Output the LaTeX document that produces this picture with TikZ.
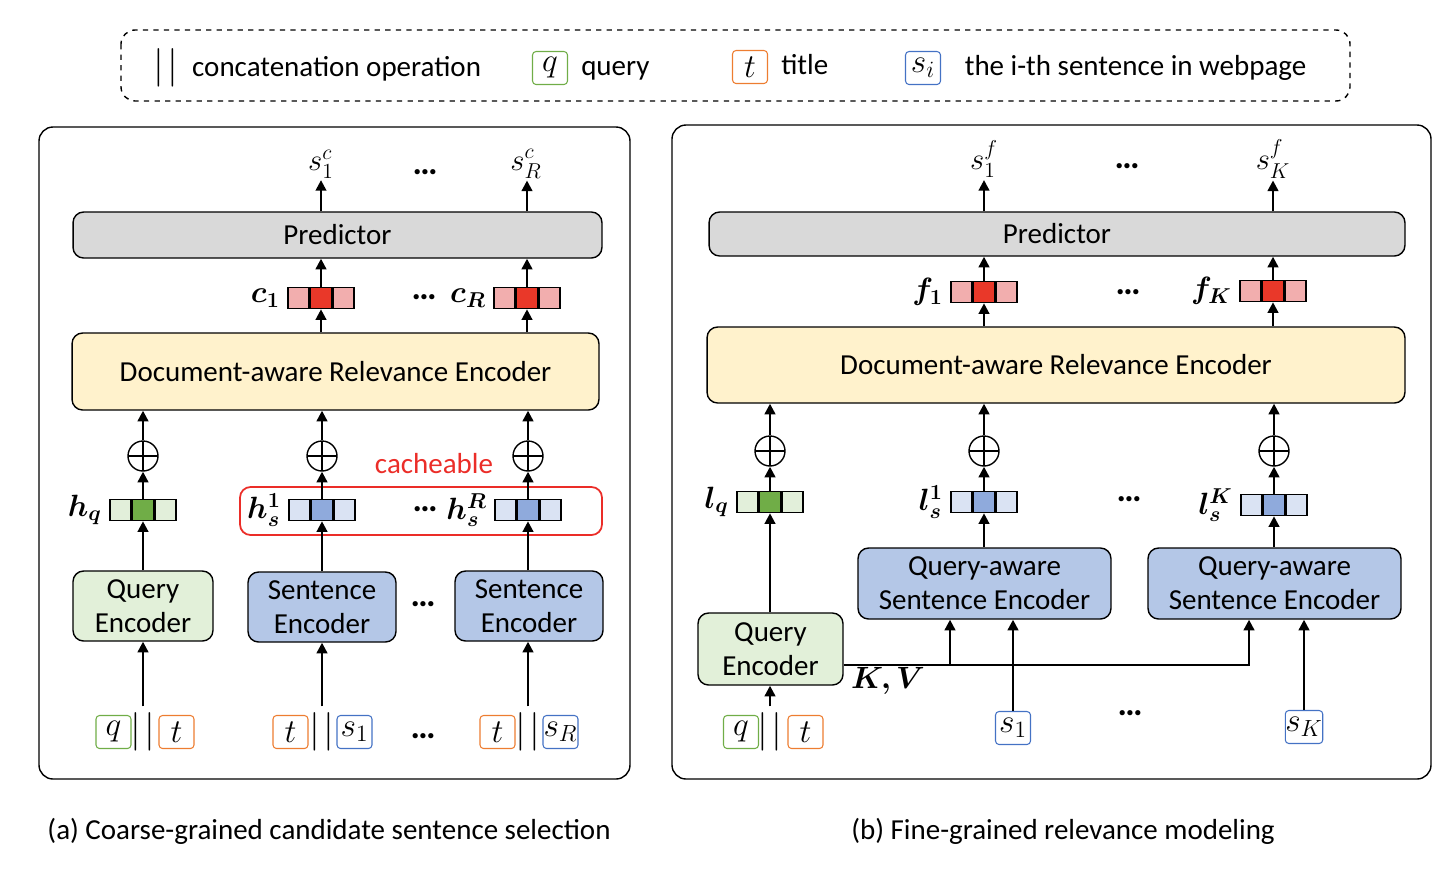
\RequirePackage{fix-cm}
\documentclass[tikz,border=0pt]{standalone}
\usepackage{amsmath,bm}
\usepackage{fontspec}
\setmainfont{Carlito}
\definecolor{relgray}{RGB}{217,217,217}
\definecolor{relyellow}{RGB}{255,242,204}
\definecolor{relgreenbg}{RGB}{226,240,217}
\definecolor{relbluebg}{RGB}{180,199,231}
\definecolor{relred}{RGB}{233,56,41}
\definecolor{relpink}{RGB}{242,174,174}
\definecolor{relgreen}{RGB}{112,173,71}
\definecolor{rellgreen}{RGB}{226,239,218}
\definecolor{relblue}{RGB}{143,170,220}
\definecolor{rellblue}{RGB}{218,227,243}
\definecolor{relorange}{RGB}{237,125,49}
\definecolor{reltblue}{RGB}{68,114,196}
\definecolor{relcache}{RGB}{235,45,40}
\usetikzlibrary{arrows.meta,positioning,calc}

% three-cell vector: name, position, side colour, centre colour
\newcommand{\relvec}[4]{%
  \node[relcell,fill=#4] (#1) at (#2) {};
  \node[relcell,fill=#3,anchor=east] (#1l) at (#1.west) {};
  \node[relcell,fill=#3,anchor=west] (#1r) at (#1.east) {};}
% tall concatenation bars
\newcommand{\relbars}{{\fontsize{22}{22}\selectfont${|}\kern2pt{|}$}}

\begin{document}
\begin{tikzpicture}[x=0.02cm,y=-0.02cm,
  font=\fontsize{16.5}{19.5}\selectfont,
  relpanel/.style={draw,rounded corners=8pt,line width=0.8pt},
  relblock/.style={draw,rounded corners=6pt,line width=0.8pt,align=center,inner sep=0pt},
  relarr/.style={-{Triangle[length=6pt,width=6pt]},line width=1.3pt},
  relcell/.style={draw,line width=0.9pt,minimum width=0.42cm,minimum height=0.42cm,inner sep=0pt},
  relplus/.style={draw,circle,line width=0.8pt,minimum size=0.6cm,inner sep=0pt,
    path picture={\draw[line width=0.8pt] (path picture bounding box.north) -- (path picture bounding box.south)
      (path picture bounding box.west) -- (path picture bounding box.east);}},
  reltok/.style={draw,rounded corners=2pt,line width=0.6pt,minimum width=0.7cm,minimum height=0.66cm,
    inner sep=0pt,font=\fontsize{19}{22}\selectfont},
  rellab/.style={inner sep=1pt,font=\fontsize{17.5}{21}\selectfont},
  relleg/.style={text height=11pt,text depth=3pt},
  reldots/.style={font=\fontsize{20}{22}\selectfont\bfseries}
]
  \useasboundingbox (0,0) rectangle (1446,870);

  % Legend
  \draw[dashed,rounded corners=8pt,line width=0.8pt] (121,30) rectangle (1350,101);
  \node (legbar) at (166,68) {\relbars};
  \node[relleg,anchor=west] (legbartxt) at (186,69) {concatenation operation};
  \node[reltok,draw=relgreen] (legq) at (550,68) {$q$};
  \node[relleg,right=4pt of legq] (legqtxt) {query};
  \node[reltok,draw=relorange] (legt) at (750,67) {$t$};
  \node[relleg,right=4pt of legt] (legttxt) {title};
  \node[reltok,draw=reltblue] (legs) at (923,68) {$s_i$};
  \node[relleg,right=10pt of legs] (legstxt) {the i-th sentence in webpage};

  % (a) coarse-grained panel
  \draw[relpanel] (39,127) rectangle (630,779);
  \node[relblock,fill=relgray,minimum width=10.58cm,minimum height=0.92cm] (predL) at (337.5,235) {Predictor};
  \node[relblock,fill=relyellow,minimum width=10.54cm,minimum height=1.54cm] (docL) at (335.5,371.5) {Document-aware Relevance Encoder};
  \node[relblock,fill=relgreenbg,minimum width=2.8cm,minimum height=1.4cm] (qencL) at (143,606) {Query\\Encoder};
  \node[relblock,fill=relbluebg,minimum width=2.96cm,minimum height=1.4cm] (sencL1) at (322,607) {Sentence\\Encoder};
  \node[relblock,fill=relbluebg,minimum width=2.96cm,minimum height=1.4cm] (sencLR) at (529,606) {Sentence\\Encoder};

  \relvec{cL1}{321,298}{relpink}{relred}
  \relvec{cLR}{527,298}{relpink}{relred}
  \relvec{hq}{143,510}{rellgreen}{relgreen}
  \relvec{hs1}{322,510}{rellblue}{relblue}
  \relvec{hsR}{528,510}{rellblue}{relblue}
  \node[rellab,left=3pt of cL1l] (cL1lab) {$\bm{c_1}$};
  \node[rellab,left=3pt of cLRl] (cLRlab) {$\bm{c_R}$};
  \node[rellab,left=3pt of hql] (hqlab) {$\bm{h_q}$};
  \node[rellab,left=3pt of hs1l] (hs1lab) {$\bm{h_s^1}$};
  \node[rellab,left=3pt of hsRl] (hsRlab) {$\bm{h_s^R}$};

  \node[relplus] (plusL1) at (143,456) {};
  \node[relplus] (plusL2) at (322,456) {};
  \node[relplus] (plusL3) at (528,456) {};

  \node[rellab] (outL1) at (321,164) {$s_1^c$};
  \node[rellab] (outLR) at (526,164) {$s_R^c$};
  \node[reldots] (dotsL1) at (425,172) {\ldots};
  \node[reldots] (dotsL2) at (424,297) {\ldots};
  \node[reldots] (dotsL3) at (425,509) {\ldots};
  \node[reldots] (dotsL4) at (423,604) {\ldots};
  \node[reldots] (dotsL5) at (423,736) {\ldots};

  % cacheable sentence states
  \draw[relcache,rounded corners=6pt,line width=1pt] (240,487) rectangle (602,535);
  \node[text=relcache] (cachetxt) at (434,464) {cacheable};

  % inputs
  \node[reltok,draw=relgreen] (inq1) at (113.5,732) {$q$};
  \node (inbar1) at (143,732) {\relbars};
  \node[reltok,draw=relorange] (int1) at (176.5,732) {$t$};
  \node[reltok,draw=relorange] (int2) at (290.5,732) {$t$};
  \node (inbar2) at (322,732) {\relbars};
  \node[reltok,draw=reltblue] (ins1) at (354.5,732) {$s_1$};
  \node[reltok,draw=relorange] (int3) at (497.5,732) {$t$};
  \node (inbar3) at (528,732) {\relbars};
  \node[reltok,draw=reltblue] (insR) at (560.5,732) {$s_R$};

  % arrows (a)
  \draw[relarr] (inbar1.north) -- (inbar1.north |- qencL.south);
  \draw[relarr] (inbar2.north) -- (inbar2.north |- sencL1.south);
  \draw[relarr] (inbar3.north) -- (inbar3.north |- sencLR.south);
  \draw[relarr] (hq |- qencL.north) -- (hq.south);
  \draw[relarr] (hs1 |- sencL1.north) -- (hs1.south);
  \draw[relarr] (hsR |- sencLR.north) -- (hsR.south);
  \draw[relarr] (hq.north) -- (plusL1.south);
  \draw[relarr] (hs1.north) -- (plusL2.south);
  \draw[relarr] (hsR.north) -- (plusL3.south);
  \draw[relarr] (plusL1.north) -- (plusL1 |- docL.south);
  \draw[relarr] (plusL2.north) -- (plusL2 |- docL.south);
  \draw[relarr] (plusL3.north) -- (plusL3 |- docL.south);
  \draw[relarr] (cL1 |- docL.north) -- (cL1.south);
  \draw[relarr] (cLR |- docL.north) -- (cLR.south);
  \draw[relarr] (cL1.north) -- (cL1 |- predL.south);
  \draw[relarr] (cLR.north) -- (cLR |- predL.south);
  \draw[relarr] (cL1 |- predL.north) -- (cL1 |- outL1.south);
  \draw[relarr] (cLR |- predL.north) -- (cLR |- outLR.south);

  % (b) fine-grained panel
  \draw[relpanel] (672,125) rectangle (1431,779);
  \node[relblock,fill=relgray,minimum width=13.92cm,minimum height=0.88cm] (predR) at (1057,234) {Predictor};
  \node[relblock,fill=relyellow,minimum width=13.96cm,minimum height=1.52cm] (docR) at (1056,365) {Document-aware Relevance Encoder};
  \node[relblock,fill=relgreenbg,minimum width=2.9cm,minimum height=1.44cm] (qencR) at (770.5,649) {Query\\Encoder};
  \node[relblock,fill=relbluebg,minimum width=5.06cm,minimum height=1.42cm] (qase1) at (984.5,583.5) {Query-aware\\Sentence Encoder};
  \node[relblock,fill=relbluebg,minimum width=5.06cm,minimum height=1.42cm] (qase2) at (1274.5,583.5) {Query-aware\\Sentence Encoder};

  \relvec{fR1}{984,292}{relpink}{relred}
  \relvec{fRK}{1273,291}{relpink}{relred}
  \relvec{lq}{770,502}{rellgreen}{relgreen}
  \relvec{ls1}{984,502}{rellblue}{relblue}
  \relvec{lsK}{1274,505}{rellblue}{relblue}
  \node[rellab,left=3pt of fR1l] (fR1lab) {$\bm{f_1}$};
  \node[rellab,left=3pt of fRKl] (fRKlab) {$\bm{f_K}$};
  \node[rellab,left=3pt of lql] (lqlab) {$\bm{l_q}$};
  \node[rellab,left=3pt of ls1l] (ls1lab) {$\bm{l_s^1}$};
  \node[rellab,left=3pt of lsKl] (lsKlab) {$\bm{l_s^K}$};

  \node[relplus] (plusR1) at (770,451) {};
  \node[relplus] (plusR2) at (984,451) {};
  \node[relplus] (plusR3) at (1274,451) {};

  \node[rellab] (outR1) at (984,159) {$s_1^f$};
  \node[rellab] (outRK) at (1273,159) {$s_K^f$};
  \node[reldots] (dotsR1) at (1127,166) {\ldots};
  \node[reldots] (dotsR2) at (1128,292) {\ldots};
  \node[reldots] (dotsR3) at (1129,499) {\ldots};
  \node[reldots] (dotsR4) at (1130,713) {\ldots};

  % inputs
  \node[reltok,draw=relgreen] (inqR) at (741,732) {$q$};
  \node (inbarR) at (770,732) {\relbars};
  \node[reltok,draw=relorange] (intR) at (805.5,732) {$t$};
  \node[reltok,draw=reltblue] (ins1R) at (1013,728) {$s_1$};
  \node[reltok,draw=reltblue] (insKR) at (1304,727) {$s_K$};

  % arrows (b)
  \draw[relarr] (inbarR.north) -- (inbarR.north |- qencR.south);
  \draw[relarr] (ins1R.north) -- (ins1R.north |- qase1.south);
  \draw[relarr] (insKR.north) -- (insKR.north |- qase2.south);
  \coordinate (kvstart) at ([yshift=-0.32cm]qencR.east);
  \coordinate (kvA) at ([xshift=-0.69cm]qase1.south);
  \draw[relarr] (kvstart) -| ([xshift=-0.51cm]qase2.south);
  \draw[relarr] (kvA |- kvstart) -- (kvA);
  \node[rellab,anchor=north west] (kvlab) at ([xshift=3pt]kvstart) {$\bm{K,V}$};
  \draw[relarr] (lq |- qencR.north) -- (lq.south);
  \draw[relarr] (ls1 |- qase1.north) -- (ls1.south);
  \draw[relarr] (lsK |- qase2.north) -- (lsK.south);
  \draw[relarr] (lq.north) -- (plusR1.south);
  \draw[relarr] (ls1.north) -- (plusR2.south);
  \draw[relarr] (lsK.north) -- (plusR3.south);
  \draw[relarr] (plusR1.north) -- (plusR1 |- docR.south);
  \draw[relarr] (plusR2.north) -- (plusR2 |- docR.south);
  \draw[relarr] (plusR3.north) -- (plusR3 |- docR.south);
  \draw[relarr] (fR1 |- docR.north) -- (fR1.south);
  \draw[relarr] (fRK |- docR.north) -- (fRK.south);
  \draw[relarr] (fR1.north) -- (fR1 |- predR.south);
  \draw[relarr] (fRK.north) -- (fRK |- predR.south);
  \draw[relarr] (fR1 |- predR.north) -- (fR1 |- outR1.south);
  \draw[relarr] (fRK |- predR.north) -- (fRK |- outRK.south);

  % Captions
  \node (capa) at (329,831) {(a) Coarse-grained candidate sentence selection};
  \node (capb) at (1063,831) {(b) Fine-grained relevance modeling};
\end{tikzpicture}
\end{document}
